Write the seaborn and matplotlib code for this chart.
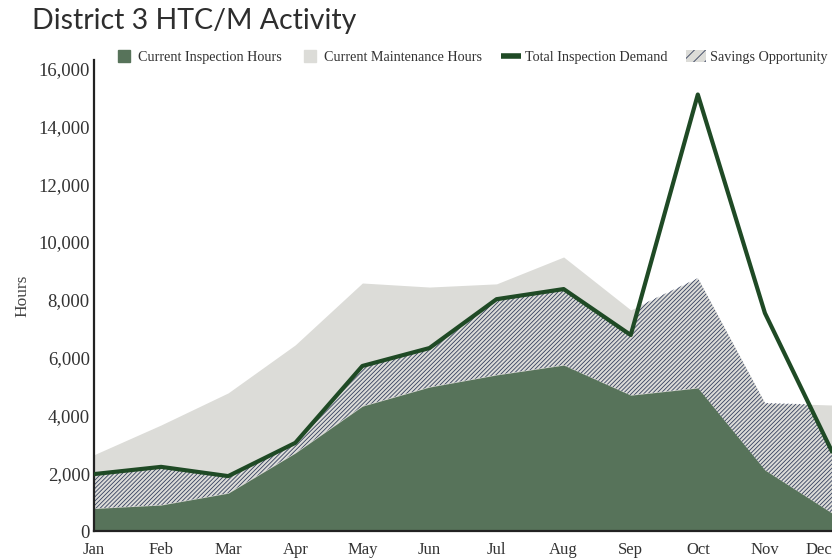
import numpy as np
import pandas as pd
import seaborn as sns
import matplotlib.pyplot as plt
from matplotlib.patches import Patch
from matplotlib.lines import Line2D

months = ['Jan', 'Feb', 'Mar', 'Apr', 'May', 'Jun', 'Jul', 'Aug', 'Sep', 'Oct', 'Nov', 'Dec']
inspection_hours = [780, 900, 1310, 2700, 4320, 4980, 5400, 5740, 4700, 4950, 2110, 620]
current_total_hours = [2640, 3670, 4780, 6440, 8580, 8440, 8550, 9480, 7650, 8750, 4430, 4360]
inspection_demand = [1970, 2220, 1900, 3050, 5710, 6330, 8020, 8370, 6780, 15100, 7540, 2750]

data = pd.DataFrame({'Month': months,
                     'Inspection': inspection_hours,
                     'Total': current_total_hours,
                     'Demand': inspection_demand})
data['pos'] = np.arange(len(months))

sns.set_theme(style='white')
plt.rcParams['font.family'] = ['Liberation Serif', 'DejaVu Serif']
plt.rcParams['hatch.color'] = '#35405e'
plt.rcParams['hatch.linewidth'] = 0.6

green = '#57735a'
grey = '#dcdcd8'
line_green = '#1f4a25'

fig = plt.figure(figsize=(8.32, 5.59), dpi=100)
ax = fig.add_axes([0.113, 0.05, 0.887, 0.843])

ax.fill_between(data['pos'], 0, data['Total'], color=grey, linewidth=0)
ax.fill_between(data['pos'], 0, data['Inspection'], color=green, linewidth=0)

# savings: between inspection and current total, but only below the demand line
hatch = ax.fill_between(data['pos'], data['Inspection'], data['Total'],
                        facecolor='none', edgecolor='#35405e', hatch='/' * 8, linewidth=0)
clip = ax.fill_between(data['pos'], 0, data['Demand'], facecolor='none', linewidth=0)
hatch.set_clip_path(clip.get_paths()[0], ax.transData)
clip.remove()

sns.lineplot(data=data, x='pos', y='Demand', ax=ax, color=line_green, linewidth=3,
             legend=False, zorder=5)

ax.set_xlim(0, 11)
ax.set_ylim(0, 16300)
ax.set_xticks(data['pos'])
ax.set_xticklabels(months)
ax.get_xticklabels()[-1].set_ha('right')
ax.set_yticks(range(0, 16001, 2000))
ax.set_yticklabels([f'{v:,}' for v in range(0, 16001, 2000)])
ax.tick_params(axis='y', labelsize=13.5, pad=3, length=0, colors='#333333')
ax.tick_params(axis='x', labelsize=12, pad=8, length=0, colors='#333333')
ax.set_xlabel('')
ax.set_ylabel('Hours', fontsize=12.5, color='#444444', labelpad=6)

for s in ['top', 'right']:
    ax.spines[s].set_visible(False)
for s in ['left', 'bottom']:
    ax.spines[s].set_color('#222222')
    ax.spines[s].set_linewidth(1.6)

handles = [
    Line2D([], [], marker='s', linestyle='none', markersize=8.5, color=green),
    Line2D([], [], marker='s', linestyle='none', markersize=8.5, color=grey),
    Line2D([], [], color=line_green, linewidth=4, solid_capstyle='butt'),
    Patch(facecolor=grey, edgecolor='#35405e', hatch='/' * 3, linewidth=0),
]
names = ['Current Inspection Hours', 'Current Maintenance Hours',
         'Total Inspection Demand', 'Savings Opportunity']
fig.legend(handles, names, loc='center left', bbox_to_anchor=(0.137, 0.898), ncol=4,
           frameon=False, fontsize=10.2, handlelength=1.4, handleheight=0.9,
           handletextpad=0.3, columnspacing=1.3, borderaxespad=0, borderpad=0,
           labelcolor='#333333')

fig.text(0.038, 0.962, 'District 3 HTC/M Activity', fontsize=20.5, family='Lato',
         color='#2e2e2e', va='center', ha='left')

fig.savefig('out.png', dpi=100)
